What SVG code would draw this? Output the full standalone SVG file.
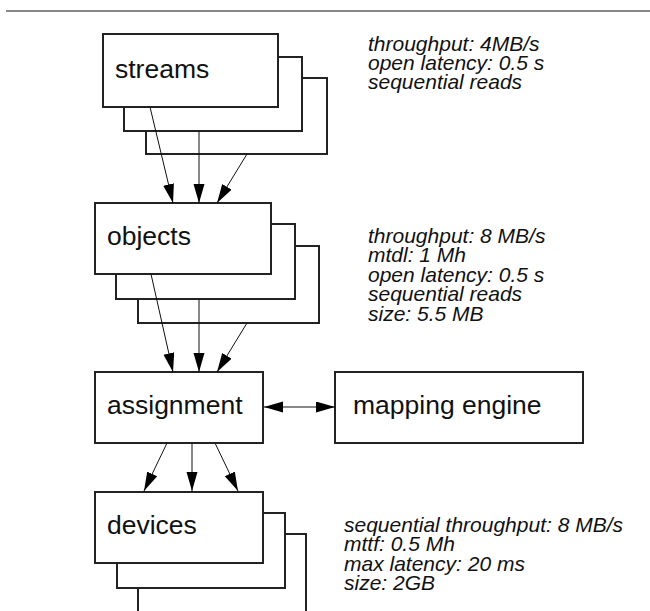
<svg xmlns="http://www.w3.org/2000/svg" width="650" height="611" viewBox="0 0 650 611">
<style>
.box{fill:#fff;stroke:#222;stroke-width:2}
.lbl{font-family:"Liberation Sans",Arial,sans-serif;font-size:26.5px;fill:#111}
.ann{font-family:"Liberation Sans",Arial,sans-serif;font-size:21px;font-style:italic;fill:#111}
.con{stroke:#111;stroke-width:1;fill:none}
</style>
<defs>
<marker id="ah" markerUnits="userSpaceOnUse" markerWidth="20" markerHeight="12" refX="19" refY="5.5" orient="auto-start-reverse">
<path d="M0,0 L19,5.5 L0,11 z" fill="#000"/>
</marker>
</defs>
<rect x="0" y="0" width="650" height="611" fill="#fff"/>
<line x1="6" y1="11" x2="650" y2="11" stroke="#888" stroke-width="2"/>

<g id="streams">
<rect class="box" x="146" y="78" width="181" height="76"/>
<rect class="box" x="124" y="57" width="178" height="74"/>
<rect class="box" x="103" y="34" width="175" height="73"/>
<text class="lbl" x="115" y="78">streams</text>
</g>
<g id="objects">
<rect class="box" x="138" y="246" width="181" height="77"/>
<rect class="box" x="116" y="224" width="179" height="75"/>
<rect class="box" x="95" y="203" width="176" height="71"/>
<text class="lbl" x="107" y="245">objects</text>
</g>
<g id="assignment">
<rect class="box" x="95" y="372" width="168" height="71"/>
<text class="lbl" x="107" y="414">assignment</text>
</g>
<g id="mapping-engine">
<rect class="box" x="335" y="372" width="248" height="71"/>
<text class="lbl" x="353" y="414">mapping engine</text>
</g>
<g id="devices">
<rect class="box" x="138" y="534" width="168" height="90"/>
<rect class="box" x="117" y="513" width="168" height="75"/>
<rect class="box" x="95" y="492" width="168" height="71"/>
<text class="lbl" x="107" y="534">devices</text>
</g>

<g id="annotations">
<text class="ann" x="368" y="51">throughput: 4MB/s</text>
<text class="ann" x="368" y="70">open latency: 0.5 s</text>
<text class="ann" x="368" y="89">sequential reads</text>
<text class="ann" x="368" y="243">throughput: 8 MB/s</text>
<text class="ann" x="368" y="262">mtdl: 1 Mh</text>
<text class="ann" x="368" y="282">open latency: 0.5 s</text>
<text class="ann" x="368" y="301">sequential reads</text>
<text class="ann" x="368" y="321">size: 5.5 MB</text>
<text class="ann" x="344" y="532">sequential throughput: 8 MB/s</text>
<text class="ann" x="344" y="551">mttf: 0.5 Mh</text>
<text class="ann" x="344" y="571">max latency: 20 ms</text>
<text class="ann" x="344" y="590">size: 2GB</text>
</g>

<g id="connectors">
<line class="con" x1="150" y1="107" x2="173" y2="203" marker-end="url(#ah)"/>
<line class="con" x1="199" y1="131" x2="199" y2="203" marker-end="url(#ah)"/>
<line class="con" x1="247" y1="154" x2="217" y2="203" marker-end="url(#ah)"/>
<line class="con" x1="151" y1="274" x2="173" y2="372" marker-end="url(#ah)"/>
<line class="con" x1="199" y1="299" x2="199" y2="372" marker-end="url(#ah)"/>
<line class="con" x1="247" y1="323" x2="217" y2="372" marker-end="url(#ah)"/>
<line class="con" x1="167" y1="443" x2="144" y2="491" marker-end="url(#ah)"/>
<line class="con" x1="192" y1="443" x2="192" y2="491" marker-end="url(#ah)"/>
<line class="con" x1="215" y1="443" x2="238" y2="491" marker-end="url(#ah)"/>
<line class="con" x1="264" y1="407" x2="335" y2="407" marker-start="url(#ah)" marker-end="url(#ah)"/>
</g>
</svg>
